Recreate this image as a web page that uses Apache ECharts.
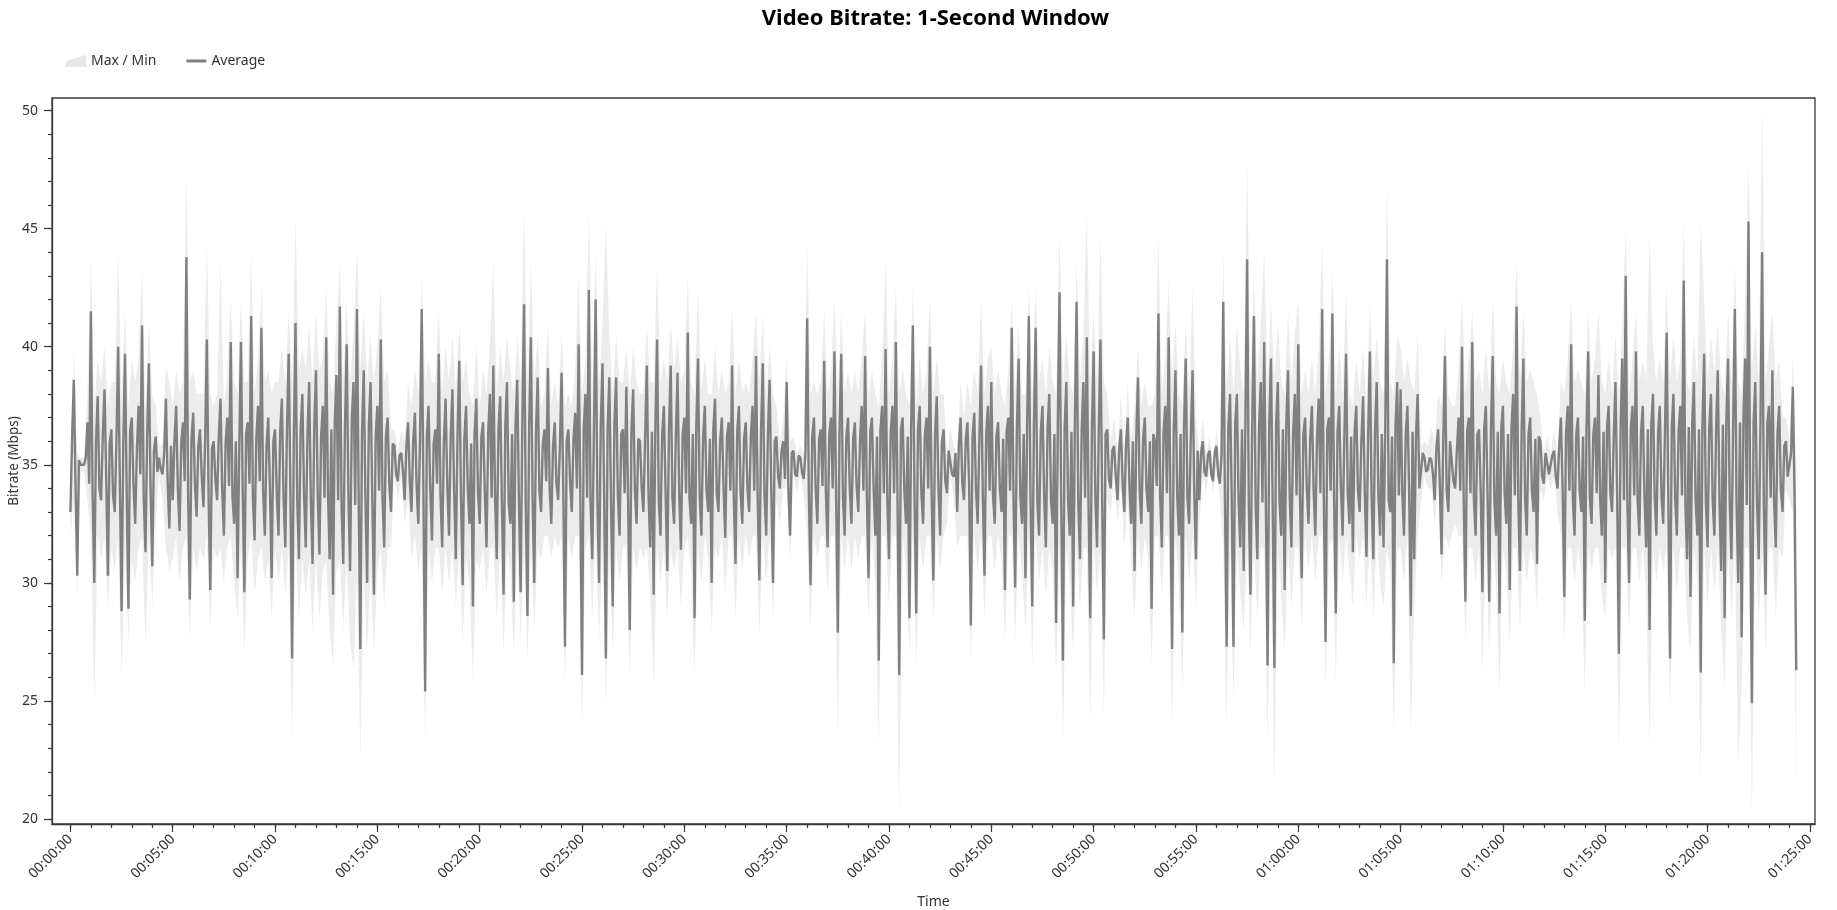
<!DOCTYPE html>
<html>
<head>
<meta charset="utf-8">
<title>Video Bitrate: 1-Second Window</title>
<script src="https://cdn.jsdelivr.net/npm/echarts@6/dist/echarts.min.js"></script>
<style>
  html, body { margin: 0; padding: 0; background: #ffffff; }
  #chart { width: 1837px; height: 910px; }
</style>
</head>
<body>
<div id="chart"></div>
<script>
// ---- data (Mbps). Average: one sample every AVG_STEP_SEC s; Max/Min: every BAND_STEP_SEC s ----
const AVG_STEP_SEC = 5;
const BAND_STEP_SEC = 10;

const avgMbps = [
  33.0,36.2,38.6,34.1,30.3,35.2,35.0,35.0,35.0,35.3,36.8,34.2,41.5,33.8,30.0,36.0,37.9,34.0,33.5,36.3,38.2,34.4,30.3,35.9,36.5,33.7,33.0,36.1,40.0,34.2,28.8,35.8,39.7,33.9,28.9,36.4,37.0,34.1,32.5,35.7,37.5,34.6,40.9,33.6,31.3,36.2,39.3,34.0,30.7,35.6,36.2,34.7,35.3,34.8,34.6,35.5,37.8,34.3,32.3,35.8,
  33.5,36.0,37.5,34.0,32.2,35.9,36.8,34.3,43.8,33.9,29.3,36.1,37.2,34.2,32.8,35.8,36.5,34.5,33.2,36.0,40.3,33.8,29.7,35.7,36.0,34.4,33.5,36.2,37.8,34.0,32.0,35.9,37.0,34.1,40.2,33.7,32.5,36.0,30.2,35.6,40.2,34.0,29.6,36.3,36.8,34.2,41.3,33.6,31.8,36.1,37.5,34.3,40.8,33.9,32.0,35.8,37.0,34.0,30.2,36.0,
  36.5,33.8,32.0,36.4,37.8,33.6,31.5,36.6,39.7,33.9,26.8,36.0,41.0,33.5,31.0,36.5,38.0,33.7,31.5,36.3,38.5,33.4,30.8,36.7,39.0,33.8,31.2,36.2,37.5,33.6,40.4,33.9,31.0,36.5,29.5,36.8,38.8,33.5,41.7,33.2,30.8,36.6,40.1,33.7,30.5,36.9,38.5,33.3,41.6,33.8,27.2,36.4,39.0,33.5,30.0,36.7,38.5,33.6,29.5,36.2,
  37.5,33.9,40.3,33.6,31.5,36.2,37.0,34.2,33.0,35.9,35.8,34.6,34.3,35.4,35.5,34.7,33.5,35.8,36.8,34.3,33.0,36.0,37.2,34.1,32.5,36.1,41.6,33.8,25.4,36.2,37.5,34.0,31.8,35.9,36.5,34.2,39.7,33.7,31.5,36.0,37.8,34.1,32.0,36.2,38.2,33.9,31.0,36.3,39.4,33.8,29.9,36.1,37.5,34.0,32.5,35.9,29.0,36.3,37.8,33.9,
  32.5,36.2,36.8,33.8,31.5,36.4,38.0,33.6,39.2,33.7,31.0,36.5,37.9,33.5,29.5,36.6,38.5,33.4,32.5,36.3,29.2,36.7,38.6,33.5,29.6,36.8,41.8,33.3,28.6,36.6,40.4,33.6,30.0,36.4,38.7,33.9,33.0,35.9,36.5,34.3,39.1,34.0,32.5,35.8,36.8,34.2,33.5,35.7,38.9,34.0,27.3,36.0,36.5,34.3,33.0,36.1,37.2,34.0,40.1,33.7,
  26.1,36.5,38.0,33.6,42.4,33.4,31.0,36.6,42.0,33.5,30.0,36.7,39.3,33.6,26.8,36.5,38.7,33.4,29.0,36.8,38.7,33.7,32.0,36.3,36.5,33.8,38.3,33.6,28.0,36.5,38.2,33.9,32.5,36.1,36.0,34.0,33.0,36.2,39.2,33.7,31.5,36.4,29.5,36.6,40.3,33.5,32.0,36.3,37.5,33.8,30.5,36.5,39.2,33.6,32.5,36.2,38.9,33.7,31.4,36.3,
  37.0,33.8,40.6,33.6,32.5,36.3,28.5,36.6,39.5,33.7,32.0,36.2,37.5,33.9,33.0,36.1,30.0,36.5,37.8,33.8,33.0,36.0,37.0,34.0,31.9,36.2,36.8,33.9,39.2,33.6,30.8,36.4,37.5,33.8,32.5,36.1,36.8,34.0,33.0,36.2,37.5,33.9,39.6,33.6,30.1,36.5,39.3,33.7,32.0,36.3,38.6,33.8,30.0,36.0,36.2,34.5,34.0,35.6,36.0,34.4,
  38.5,34.0,32.0,35.5,35.6,34.6,34.5,35.4,35.3,34.7,34.4,35.5,41.2,33.8,29.9,36.2,37.0,34.0,32.5,36.1,36.5,34.1,39.4,33.8,31.5,36.3,37.0,34.0,39.8,33.7,27.9,36.4,39.7,33.6,32.0,36.2,37.0,34.0,32.5,36.1,36.8,34.1,33.0,36.0,37.5,33.9,39.6,33.7,30.2,36.4,37.0,34.0,32.0,36.2,26.7,36.5,37.5,33.8,39.9,33.6,
  31.0,36.3,37.5,33.8,40.2,33.6,26.1,36.5,37.0,33.9,32.5,36.2,28.5,36.6,40.9,33.5,28.7,36.5,37.5,33.8,32.5,36.2,37.0,34.0,40.0,33.7,30.1,36.3,37.9,34.0,32.0,35.9,36.5,34.3,33.8,35.6,35.6,34.6,34.5,35.5,33.0,35.9,37.0,34.2,33.5,36.0,36.8,34.1,28.2,36.2,37.2,34.0,32.5,36.1,39.2,33.8,30.3,36.3,37.5,33.9,
  38.5,33.7,32.5,36.2,36.8,34.0,33.0,36.1,29.7,36.4,37.0,33.9,40.8,33.6,29.8,36.5,39.5,33.7,32.5,36.3,30.2,36.6,41.3,33.5,29.0,36.7,40.8,33.4,32.0,36.4,37.5,33.6,31.5,36.6,38.0,33.5,32.5,36.3,28.3,36.8,42.3,33.3,26.7,36.6,38.5,33.5,32.0,36.4,29.0,36.7,41.9,33.4,31.0,36.5,38.5,33.6,40.4,33.3,28.5,36.6,
  39.8,33.6,31.5,36.4,40.3,33.5,27.6,36.3,36.5,34.4,34.0,35.6,35.8,34.5,33.5,35.7,36.5,34.2,33.0,35.9,37.0,34.1,32.5,36.0,30.5,36.2,38.7,33.9,32.5,36.1,37.0,34.0,33.0,36.0,28.9,36.3,36.0,34.1,41.4,33.7,31.5,36.4,37.5,33.8,40.4,33.6,27.2,36.5,39.0,33.7,32.0,36.3,27.9,36.6,39.5,33.6,32.5,36.2,39.0,33.8,
  31.0,35.6,33.5,35.5,36.0,34.7,34.5,35.4,35.6,34.6,34.3,35.5,35.8,34.6,34.2,35.4,41.9,33.5,27.3,36.6,38.0,33.4,27.3,36.7,38.0,33.5,31.5,36.5,30.5,36.8,43.7,33.2,29.5,36.7,41.3,33.3,31.0,36.6,38.5,33.4,40.2,33.2,26.5,36.8,39.5,33.3,26.4,36.7,38.5,33.5,32.0,36.5,29.7,36.8,39.0,33.6,31.5,36.4,38.0,33.7,
  40.1,33.6,30.2,36.3,37.0,34.0,32.5,36.1,37.5,33.9,32.0,36.2,37.8,33.8,41.6,33.5,27.5,36.5,37.0,33.9,41.4,33.6,28.7,36.4,37.5,34.0,32.0,36.1,39.7,33.8,32.5,36.2,31.3,36.3,37.5,33.9,33.0,36.0,37.9,33.8,31.1,36.4,39.8,33.6,31.0,36.5,38.5,33.7,32.0,36.3,31.5,36.5,43.7,33.5,33.0,36.2,26.6,36.6,38.5,33.7,
  38.2,33.8,32.0,36.2,37.5,33.9,28.6,36.4,31.0,36.2,38.0,34.0,34.0,35.5,35.3,34.7,34.8,35.3,35.2,34.6,33.5,35.7,36.5,34.2,31.2,36.0,39.6,33.9,33.0,36.0,36.0,34.3,34.0,35.6,37.0,33.9,40.0,33.6,29.2,36.4,37.0,33.8,40.2,33.5,32.0,36.3,36.5,33.8,29.6,36.5,37.5,33.7,29.2,36.6,39.6,33.5,32.0,36.4,28.7,36.5,
  37.5,33.8,32.5,36.3,29.7,36.5,38.0,33.7,41.7,33.5,30.5,36.5,39.5,33.6,32.0,36.3,37.0,33.9,33.0,36.1,30.8,36.2,36.0,34.5,34.2,35.5,35.5,34.6,34.6,35.4,35.6,34.5,34.0,35.8,37.0,34.0,29.4,36.3,37.5,33.9,40.1,33.6,32.0,36.3,37.0,33.9,33.0,36.2,28.4,36.5,39.8,33.6,32.5,36.3,37.0,33.8,38.8,33.6,32.0,36.4,
  30.0,36.5,37.5,33.8,33.0,36.2,38.5,33.6,27.0,36.5,39.5,33.5,43.0,33.3,30.0,36.6,37.5,33.7,39.8,33.5,32.0,36.4,37.5,33.7,31.5,36.5,28.0,36.7,38.0,33.6,32.0,36.4,37.5,33.7,32.5,36.3,40.6,33.4,26.8,36.6,38.0,33.6,32.0,36.4,37.5,33.7,42.8,33.3,31.0,36.6,29.4,36.8,38.5,33.5,32.0,36.5,26.2,36.7,39.7,33.4,
  31.5,36.6,38.0,33.5,32.0,36.5,39.0,33.4,30.5,36.7,28.5,36.8,39.5,33.4,31.0,36.6,41.6,33.3,30.0,36.8,27.7,36.9,39.5,33.3,45.3,33.2,24.9,36.8,38.5,33.4,31.0,36.6,44.0,33.2,29.5,36.7,37.5,33.6,39.0,33.5,31.5,36.3,37.5,33.9,33.0,35.8,36.0,34.5,34.5,35.5,38.3,33.8,26.3
];

const maxMbps = [
  34.5,39.8,35.5,35.3,35.3,38.0,43.7,37.5,39.5,38.5,40.0,37.5,38.5,38.5,44.0,38.0,41.5,37.5,39.5,38.5,39.5,43.3,37.5,41.0,38.0,37.5,35.8,35.9,39.2,38.5,
  37.5,39.0,38.0,38.5,47.2,38.5,39.0,38.0,38.0,38.0,44.3,38.0,37.5,38.0,43.5,37.5,38.8,42.0,38.5,38.0,42.0,38.5,38.5,43.9,38.0,39.5,42.5,38.5,39.0,38.0,
  38.5,38.5,40.0,38.5,41.5,38.5,45.4,39.0,40.0,39.0,41.0,38.5,41.5,39.0,39.5,42.5,38.5,38.0,41.0,43.5,38.5,42.0,38.5,40.5,44.1,39.0,41.5,38.5,40.5,38.5,
  40.0,42.5,38.5,39.0,36.5,36.5,35.5,36.5,36.0,38.5,37.5,39.0,38.0,42.9,38.5,39.5,38.5,38.5,41.5,38.0,40.0,38.5,40.5,38.0,41.0,38.5,39.5,38.0,37.5,40.0,
  37.5,39.0,38.0,40.0,43.6,38.0,40.0,38.5,40.5,39.0,38.0,40.5,38.5,45.9,38.5,43.6,38.5,40.5,37.5,38.0,41.0,37.5,38.5,37.5,40.5,37.5,38.0,37.5,39.0,43.0,
  38.0,39.5,45.6,38.5,44.0,38.5,41.0,45.2,40.5,38.0,40.5,38.5,38.5,40.0,38.0,40.0,38.5,38.0,38.0,41.0,38.5,38.5,43.4,38.5,39.5,38.5,41.0,39.0,40.5,38.5,
  39.0,42.9,38.5,38.0,42.4,38.0,39.5,38.0,38.0,40.0,38.0,39.0,38.0,38.5,41.7,38.0,39.5,38.0,38.5,38.0,39.5,41.5,38.5,41.4,38.0,40.0,38.0,37.5,36.0,37.0,
  39.5,36.0,36.2,35.5,35.8,35.5,44.4,38.0,38.5,38.0,38.5,41.5,38.0,39.0,42.0,38.0,41.5,38.0,39.0,38.0,39.0,38.0,39.5,41.5,38.0,39.0,38.0,37.5,39.5,43.6,
  38.0,39.5,42.5,38.0,39.0,38.0,37.5,42.5,37.5,39.5,38.0,39.0,42.0,38.0,39.5,38.0,38.0,35.5,36.5,35.8,35.5,38.5,37.0,38.5,37.5,39.0,38.0,42.0,38.0,39.5,
  40.0,38.0,39.0,38.0,37.5,39.0,42.0,38.0,41.0,38.0,38.0,42.6,38.0,42.5,38.5,39.5,38.0,40.0,38.5,38.0,44.8,38.5,40.5,38.5,38.0,43.5,38.5,40.5,45.6,38.5,
  41.5,38.5,44.6,38.5,38.0,36.0,37.0,35.5,38.0,35.5,38.5,36.0,37.5,40.0,37.5,38.5,37.5,37.5,38.0,44.7,38.0,39.5,42.8,38.5,41.0,38.0,37.5,41.0,38.0,42.5,
  37.0,35.5,37.0,35.5,36.2,35.0,36.5,35.2,44.0,38.0,40.5,38.0,41.0,39.0,38.0,47.8,38.5,43.0,38.5,41.0,44.0,38.5,42.0,38.5,41.0,38.5,38.0,41.5,38.5,40.5,
  42.0,38.0,39.0,38.0,39.5,38.0,40.0,44.3,38.0,39.5,43.2,38.0,40.0,38.0,42.3,38.0,37.5,39.5,38.0,40.0,37.5,41.8,38.5,40.5,38.5,38.0,46.8,38.5,38.0,40.5,
  40.0,38.5,39.5,38.5,38.0,40.5,35.8,36.0,35.8,36.5,36.0,38.0,37.5,41.0,38.0,37.5,37.5,39.0,42.1,38.0,39.5,41.5,38.5,39.0,38.0,40.0,38.0,42.0,38.5,38.0,
  39.5,38.5,38.0,40.0,43.5,38.5,41.5,38.5,39.0,38.5,38.0,37.0,35.5,36.2,35.5,36.5,35.5,38.5,38.0,39.5,42.0,38.5,39.0,38.5,38.0,41.5,38.5,39.5,41.5,38.5,
  38.0,39.5,38.0,40.5,38.0,41.0,45.0,38.0,39.5,41.5,38.5,39.5,38.5,44.7,40.0,38.5,39.5,38.5,42.5,38.5,40.5,38.5,39.5,45.2,38.5,38.0,40.5,38.5,45.3,42.0,
  38.5,40.5,39.0,41.0,38.5,38.0,41.5,38.5,43.5,38.5,38.0,42.0,47.9,39.0,41.0,38.5,50.3,38.5,40.0,41.5,38.5,39.5,37.0,37.0,36.0,39.5,35.0
];

const minMbps = [
  32.0,33.5,29.5,34.7,34.7,33.5,32.0,24.9,32.0,31.0,32.0,29.0,31.5,30.5,32.0,26.0,31.5,27.5,31.0,30.0,31.5,32.0,27.3,32.0,29.0,32.5,34.6,33.5,31.5,30.5,
  31.0,32.0,30.0,31.5,32.0,27.6,31.5,30.5,31.5,31.0,32.0,28.0,31.5,31.0,31.5,30.0,31.5,32.0,30.0,28.5,31.5,27.0,31.0,32.0,29.5,31.0,31.5,30.0,31.0,28.5,
  31.5,30.0,31.5,29.5,31.5,23.3,31.5,28.5,31.0,29.5,31.0,28.0,31.0,28.5,30.5,31.0,28.0,26.5,30.5,31.0,28.0,31.0,27.5,26.3,30.5,22.6,30.5,27.0,30.5,27.0,
  30.5,31.5,29.0,31.5,31.5,34.5,33.5,34.5,32.5,33.5,31.0,32.0,30.5,31.5,23.3,31.5,30.0,31.5,31.5,29.5,31.5,30.0,31.5,29.0,31.5,27.5,31.0,30.0,25.8,31.0,
  30.5,31.5,29.5,31.5,31.5,28.5,31.5,27.0,31.5,30.5,27.0,31.5,27.5,31.5,26.7,31.5,28.0,31.5,31.0,32.0,32.0,31.0,32.0,31.5,32.0,25.8,32.0,31.0,32.0,32.0,
  23.8,31.5,32.0,28.5,32.0,27.5,31.5,24.7,31.5,27.0,31.5,30.0,31.5,31.5,26.0,31.5,30.5,31.5,31.0,31.5,29.5,25.6,31.5,30.0,31.5,28.5,31.5,30.5,31.5,29.0,
  31.5,32.0,30.5,26.1,31.5,30.0,32.0,31.0,28.0,31.5,31.0,32.0,29.5,32.0,32.0,28.5,32.0,30.5,32.0,31.0,32.0,32.0,27.8,32.0,30.0,32.0,28.5,33.5,32.5,34.0,
  34.0,31.0,34.5,33.8,34.5,33.8,32.0,28.0,32.0,31.0,32.0,32.0,29.5,32.0,32.0,23.6,32.0,30.5,32.0,30.5,32.0,31.0,32.0,32.0,28.5,32.0,30.0,23.1,32.0,32.0,
  29.0,32.0,32.0,20.2,32.0,30.5,26.9,32.0,26.5,32.0,30.5,32.0,32.0,28.5,32.0,30.5,32.0,32.5,34.5,33.5,31.5,32.0,32.0,32.0,26.7,32.0,30.5,32.0,28.5,32.0,
  32.0,30.5,32.0,31.0,27.5,32.0,32.0,27.5,32.0,30.5,28.0,32.0,26.5,32.0,30.0,31.5,29.5,31.5,30.5,26.0,31.5,23.1,31.5,30.0,27.0,31.5,29.0,31.5,31.5,24.1,
  31.5,29.5,31.5,24.3,33.5,33.0,34.5,32.5,34.0,31.5,33.5,31.0,28.5,32.0,30.5,32.0,31.0,26.5,32.0,32.0,29.5,32.0,32.0,23.8,32.0,30.0,25.5,32.0,30.0,32.0,
  29.0,32.5,34.5,33.8,34.8,33.8,35.0,33.5,31.5,24.0,31.5,25.0,31.5,29.5,28.0,31.5,27.0,31.5,28.5,31.5,31.5,23.3,31.5,21.4,31.5,29.5,27.0,31.5,29.0,31.5,
  31.5,28.0,32.0,30.5,32.0,30.0,32.0,32.0,25.6,31.5,32.0,25.8,32.0,30.0,32.0,30.5,29.0,32.0,31.0,32.0,29.0,32.0,28.5,32.0,30.0,29.0,31.5,30.5,23.7,31.5,
  31.5,30.0,32.0,23.7,29.0,32.0,33.5,34.5,34.0,34.0,32.5,34.0,30.0,32.0,31.5,32.0,32.5,32.0,32.0,27.5,31.5,31.5,30.0,31.5,26.2,31.5,27.0,31.5,30.0,25.3,
  31.5,30.5,27.5,31.5,31.5,28.0,31.5,30.0,31.5,31.0,29.0,34.0,33.5,34.5,34.0,34.5,33.0,32.0,27.5,31.5,31.5,30.0,31.5,30.5,25.3,31.5,30.5,31.5,31.5,29.5,
  28.5,31.5,31.0,31.5,22.9,31.5,31.5,28.0,31.5,31.5,30.0,31.5,29.5,23.1,31.5,30.0,31.5,30.5,31.5,24.5,31.5,29.5,31.5,31.5,28.5,27.0,31.5,30.0,21.7,31.5,
  29.0,31.5,29.5,31.5,28.0,25.5,31.5,28.5,31.5,22.4,25.5,31.5,31.5,20.1,31.5,28.5,31.5,27.0,31.5,31.5,28.5,31.5,31.0,34.0,33.5,33.0,21.3
];

// tick values
const timeMajorTicksSec = [0,300,600,900,1200,1500,1800,2100,2400,2700,3000,3300,3600,3900,4200,4500,4800,5100];
const timeMinorTicksSec = [0,60,120,180,240,300,360,420,480,540,600,660,720,780,840,900,960,1020,1080,1140,1200,1260,1320,1380,1440,1500,1560,1620,1680,1740,1800,1860,1920,1980,2040,2100,2160,2220,2280,2340,2400,2460,2520,2580,2640,2700,2760,2820,2880,2940,3000,3060,3120,3180,3240,3300,3360,3420,3480,3540,3600,3660,3720,3780,3840,3900,3960,4020,4080,4140,4200,4260,4320,4380,4440,4500,4560,4620,4680,4740,4800,4860,4920,4980,5040,5100];
const bitrateMajorTicks = [20,25,30,35,40,45,50];
const bitrateMinorTicks = [20,21,22,23,24,25,26,27,28,29,30,31,32,33,34,35,36,37,38,39,40,41,42,43,44,45,46,47,48,49,50];

// ---- build series data ----
const avgPairs = avgMbps.map((v, i) => [i * AVG_STEP_SEC, v]);
const maxPairs = maxMbps.map((v, i) => [i * BAND_STEP_SEC, v]);
const minPairs = minMbps.map((v, i) => [i * BAND_STEP_SEC, v]);
// band outline: along the maxima forward, back along the minima
const bandOutline = maxPairs.concat(minPairs.slice().reverse());

function fmtTime(sec) {
  const h = Math.floor(sec / 3600), m = Math.floor((sec % 3600) / 60), s = Math.round(sec % 60);
  const p = n => String(n).padStart(2, '0');
  return p(h) + ':' + p(m) + ':' + p(s);
}

const FONT = '"Noto Sans", "Open Sans", sans-serif';
const X_MIN = -54, X_MAX = 5115, Y_MIN = 19.79, Y_MAX = 50.53;
const AXIS_COLOR = '#3a3a3a';
const TEXT_COLOR = '#333333';
const BAND_COLOR = '#ececec';
const AVG_COLOR = '#808080';

const GRID = { left: 52, right: 22, top: 98, bottom: 86 };
const W = 1837, H = 910;
const plotCenterX = GRID.left + (W - GRID.left - GRID.right) / 2;
const plotCenterY = GRID.top + (H - GRID.top - GRID.bottom) / 2;

const chart = echarts.init(document.getElementById('chart'), null, { renderer: 'canvas' });
chart.setOption({
  animation: false,
  backgroundColor: '#ffffff',
  textStyle: { fontFamily: FONT },
  title: {
    text: 'Video Bitrate: 1-Second Window',
    left: plotCenterX - 3, top: 3, textAlign: 'center',
    textStyle: { fontFamily: FONT, fontSize: 22, fontWeight: 'bold', color: '#000' }
  },
  legend: {
    left: 61, top: 49,
    itemWidth: 20, itemHeight: 12, itemGap: 30,
    selectedMode: false,
    textStyle: { fontFamily: FONT, fontSize: 14, color: TEXT_COLOR },
    data: [
      { name: 'Max / Min', icon: 'path://M0,12 L0,6 L20,0 L20,12 Z', itemStyle: { color: '#e6e6e6' } },
      { name: 'Average', icon: 'path://M0,0 L20,0 L20,3 L0,3 Z', itemStyle: { color: AVG_COLOR } }
    ]
  },
  graphic: [
    {
      type: 'text', x: plotCenterX, y: 902, silent: true,
      style: { text: 'Time', font: '14px ' + FONT, fill: TEXT_COLOR,
               align: 'center', verticalAlign: 'middle', textAlign: 'center', textVerticalAlign: 'middle' }
    },
    {
      type: 'text', x: 14, y: plotCenterY, rotation: Math.PI / 2, silent: true,
      style: { text: 'Bitrate (Mbps)', font: '13.5px ' + FONT, fill: TEXT_COLOR,
               align: 'center', verticalAlign: 'middle', textAlign: 'center', textVerticalAlign: 'middle' }
    }
  ],
  grid: {
    left: GRID.left, right: GRID.right, top: GRID.top, bottom: GRID.bottom,
    containLabel: false, outerBoundsMode: 'none',
    show: true, borderColor: AXIS_COLOR, borderWidth: 1.3, backgroundColor: 'transparent'
  },
  xAxis: [
    {
      type: 'value', min: X_MIN, max: X_MAX, position: 'bottom', z: 10,
      axisLine: { show: true, onZero: false, lineStyle: { color: AXIS_COLOR, width: 1.3 } },
      axisTick: { show: true, inside: false, length: 8, customValues: timeMajorTicksSec, lineStyle: { color: AXIS_COLOR, width: 1.2 } },
      axisLabel: { show: true, rotate: 45, margin: 13, fontSize: 14, color: TEXT_COLOR, fontFamily: FONT,
                   customValues: timeMajorTicksSec, formatter: v => fmtTime(v) },
      splitLine: { show: false }
    },
    {
      type: 'value', min: X_MIN, max: X_MAX, position: 'bottom', z: 10,
      axisLine: { show: false, onZero: false },
      axisTick: { show: true, inside: false, length: 4, customValues: timeMinorTicksSec, lineStyle: { color: AXIS_COLOR, width: 1.2 } },
      axisLabel: { show: false },
      splitLine: { show: false }
    }
  ],
  yAxis: [
    {
      type: 'value', min: Y_MIN, max: Y_MAX, position: 'left', z: 10,
      axisLine: { show: true, onZero: false, lineStyle: { color: AXIS_COLOR, width: 1.3 } },
      axisTick: { show: true, inside: false, length: 8, customValues: bitrateMajorTicks, lineStyle: { color: AXIS_COLOR, width: 1.2 } },
      axisLabel: { show: true, margin: 14, fontSize: 14, color: TEXT_COLOR, fontFamily: FONT, customValues: bitrateMajorTicks },
      splitLine: { show: false }
    },
    {
      type: 'value', min: Y_MIN, max: Y_MAX, position: 'left', z: 10,
      axisLine: { show: false, onZero: false },
      axisTick: { show: true, inside: false, length: 4, customValues: bitrateMinorTicks, lineStyle: { color: AXIS_COLOR, width: 1.2 } },
      axisLabel: { show: false },
      splitLine: { show: false }
    }
  ],
  series: [
    {
      // Max/Min band: one polygon between the maxima and minima, placed through the axes
      name: 'Max / Min', type: 'custom',
      xAxisIndex: 0, yAxisIndex: 0,
      data: [[0, 35]], silent: true, z: 1,
      itemStyle: { color: '#e6e6e6' },
      renderItem: function (params, api) {
        const pts = bandOutline.map(p => api.coord(p));
        return { type: 'polygon', shape: { points: pts }, style: { fill: BAND_COLOR, stroke: null } };
      }
    },
    {
      name: 'Average', type: 'line', data: avgPairs,
      xAxisIndex: 0, yAxisIndex: 0,
      symbol: 'none', silent: true,
      lineStyle: { color: AVG_COLOR, width: 2.4 },
      itemStyle: { color: AVG_COLOR }, z: 3
    }
  ]
});
</script>
</body>
</html>
